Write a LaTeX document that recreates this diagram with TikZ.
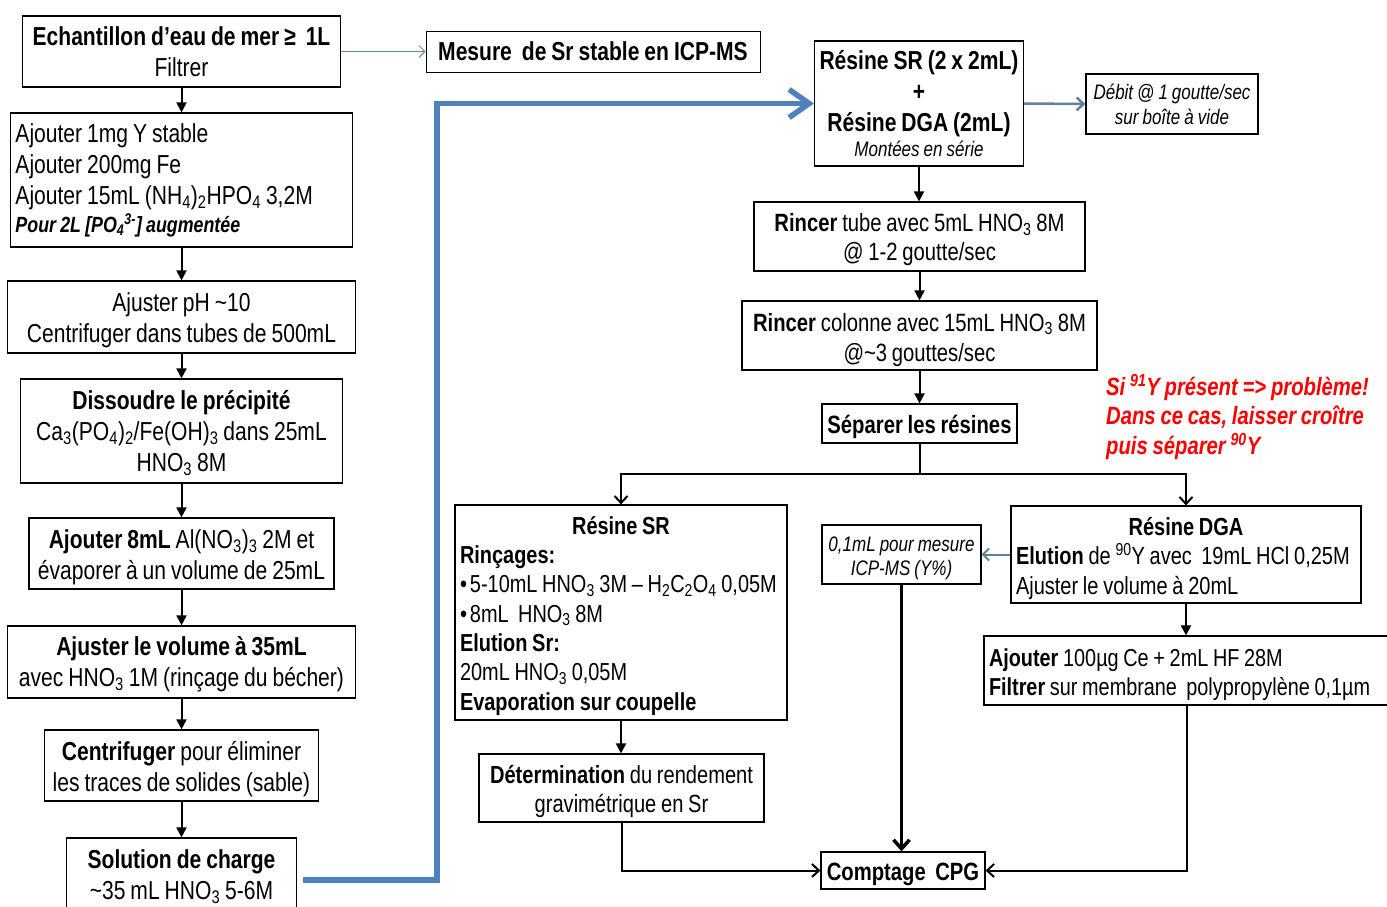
\documentclass[tikz,border=0pt]{standalone}
\usepackage{fontspec}
\setmainfont[FakeStretch=0.81,WordSpace=0.85]{Liberation Sans}
\usetikzlibrary{arrows.meta}
\definecolor{arrblue}{RGB}{79,129,189}
\definecolor{slate}{RGB}{96,132,150}
\definecolor{redtxt}{RGB}{255,0,0}
\newcommand{\fs}[2]{\fontsize{#1}{#2}\selectfont}
\newcommand{\mysub}[1]{\textsubscript{#1}}
\newcommand{\mysup}[1]{\textsuperscript{#1}}
\newcommand{\nsp}{\spaceskip=0pt\xspaceskip=0pt\relax}
\newcommand{\tp}[1]{\rule{0pt}{#1pt}}
\begin{document}
\begin{tikzpicture}[x=1pt,y=-1pt,
  box/.style={draw, line width=1.2pt, inner xsep=5pt, inner ysep=0pt, font=\fs{26}{31}, align=center,
    execute at begin node=\nsp},
  arr/.style={-{Triangle[length=10pt,width=10pt]}, line width=2pt},
  barb/.style={-{Straight Barb[length=7pt,width=13pt]}, line width=2pt},
  slatearr/.style={-{Straight Barb[length=7pt,width=13pt]}, line width=2.5pt, draw=slate},
  bluearr/.style={-{Straight Barb[length=20pt,width=28pt]}, line width=5.5pt, draw=arrblue}
]
\useasboundingbox[fill=white] (0,0) rectangle (1387,906);
\clip (0,0) rectangle (1387,906);

% left column
\node[box, minimum width=318, minimum height=71] (e1) at (181.5,51.5)
  {{\bfseries Echantillon d’eau de mer ≥~~1L}\\Filtrer};
\node[box, minimum width=342, minimum height=134, text width=332, align=left] (e2) at (181.5,180)
  {\mbox{Ajouter 1mg Y stable}\\\mbox{Ajouter 200mg Fe}\\\mbox{Ajouter 15mL (NH\mysub{4})\mysub{2}HPO\mysub{4} 3,2M}\\[-3pt]\mbox{\fs{22}{26}\bfseries\itshape Pour 2L [PO\mysub{4}\mysup{3-}] augmentée}};
\node[box, minimum width=348, minimum height=72] (e3) at (181.5,317)
  {\tp{25}Ajuster pH \textasciitilde10\\Centrifuger dans tubes de 500mL};
\node[box, minimum width=322, minimum height=104] (e4) at (181.5,431)
  {\tp{23.5}{\bfseries Dissoudre le précipité}\\Ca\mysub{3}(PO\mysub{4})\mysub{2}/Fe(OH)\mysub{3} dans 25mL\\HNO\mysub{3} 8M};
\node[box, minimum width=305, minimum height=71] (e5) at (181.5,553.5)
  {\tp{27}{\bfseries Ajouter 8mL} Al(NO\mysub{3})\mysub{3} 2M et\\évaporer à un volume de 25mL};
\node[box, minimum width=348, minimum height=72] (e6) at (181.5,662)
  {\tp{23}{\bfseries Ajuster le volume à 35mL}\\avec HNO\mysub{3} 1M (rinçage du bécher)};
\node[box, minimum width=274, minimum height=71] (e7) at (181.5,765.5)
  {\tp{27}{\bfseries Centrifuger} pour éliminer\\les traces de solides (sable)};
\node[box, minimum width=230, minimum height=74] (e8) at (181.5,875)
  {\tp{23}{\bfseries Solution de charge}\\\textasciitilde35 mL HNO\mysub{3} 5-6M};

\draw[arr] (e1.south) -- (e2.north);
\draw[arr] (e2.south) -- (e3.north);
\draw[arr] (e3.south) -- (e4.north);
\draw[arr] (e4.south) -- (e5.north);
\draw[arr] (e5.south) -- (e6.north);
\draw[arr] (e6.south) -- (e7.north);
\draw[arr] (e7.south) -- (e8.north);

% mesure
\node[box, line width=1pt, minimum width=334, minimum height=41] (mes) at (593,51.5)
  {\bfseries Mesure~~de Sr stable en ICP-MS};
\draw[-{Straight Barb[length=6pt,width=12pt]}, line width=0.8pt, draw=slate] (e1.east) -- (mes.west);

% top right
\node[box, minimum width=204, minimum height=125] (srtop) at (919,103.5)
  {{\bfseries Résine SR (2 x 2mL)}\\{\bfseries +}\\{\bfseries Résine DGA (2mL)}\\[-6pt]{\fs{21}{25}\itshape Montées en série}};
\node[box, minimum width=172, minimum height=60, font=\fs{21}{25}\itshape] (deb) at (1172,104)
  {Débit @ 1 goutte/sec\\sur boîte à vide};
\draw[slatearr] (srtop.east) -- (deb.west);

\coordinate (bend) at (437,880);
\draw[bluearr] ([xshift=6pt,yshift=-5pt]e8.east) -- (bend) |- (srtop.west);

\node[box, minimum width=331, minimum height=69, font=\fs{25}{29}] (r1) at (919.5,236.5)
  {\tp{24.5}{\bfseries Rincer} tube avec 5mL HNO\mysub{3} 8M\\@ 1-2 goutte/sec};
\node[box, minimum width=355, minimum height=69, font=\fs{25}{30}] (r2) at (919.5,335.5)
  {\tp{26.5}{\bfseries Rincer} colonne avec 15mL HNO\mysub{3} 8M\\@\textasciitilde3 gouttes/sec};
\node[box, minimum width=195, minimum height=39, font=\fs{25}{30}] (sep) at (919.5,423.5)
  {\tp{24.5}\bfseries Séparer les résines};
\draw[arr] (srtop.south) -- (srtop.south |- r1.north);
\draw[arr] (r1.south) -- (r2.north);
\draw[arr] (r2.south) -- (sep.north);

\node[anchor=west, align=left, text=redtxt, font=\fs{25}{29.5}\bfseries\itshape, inner sep=0pt] (note) at (1106,416.5)
  {Si \mysup{91}Y présent => problème!\\Dans ce cas, laisser croître\\puis séparer \mysup{90}Y};

% branches
\node[box, minimum width=332, minimum height=215, text width=322, align=left, font=\fs{24.6}{29.3}] (rsr) at (621,612.5)
  {\tp{24.5}\makebox[\linewidth][c]{\bfseries Résine SR}\\\mbox{\bfseries Rinçages:}\\\mbox{•\hspace{3pt}5-10mL HNO\mysub{3} 3M – H\mysub{2}C\mysub{2}O\mysub{4} 0,05M}\\\mbox{•\hspace{3pt}8mL~ HNO\mysub{3} 8M}\\\mbox{\bfseries Elution Sr:}\\\mbox{20mL HNO\mysub{3} 0,05M}\\\mbox{\bfseries Evaporation sur coupelle}};
\node[box, minimum width=350, minimum height=97, text width=340, align=left, font=\fs{24.7}{29.5}] (dga) at (1186,554.5)
  {\tp{25.5}\makebox[\linewidth][c]{\bfseries Résine DGA}\\\mbox{{\bfseries Elution} de \mysup{90}Y avec~~19mL HCl 0,25M}\\\mbox{Ajuster le volume à 20mL}};
\coordinate (jn) at (919.5,474);
\draw[line width=2pt] (sep.south) -- (jn);
\draw[barb] (jn) -| (rsr.north);
\draw[barb] (jn) -| (dga.north);

\node[box, minimum width=285, minimum height=68, font=\fs{24.8}{29}] (det) at (621.5,788)
  {\tp{24.5}{\bfseries Détermination} du rendement\\gravimétrique en Sr};
\draw[arr] (rsr.south) -- (rsr.south |- det.north);

\node[box, minimum width=159, minimum height=59, font=\fs{21}{24}\itshape] (icp) at (901.5,554.5)
  {\tp{21.5}0,1mL pour mesure\\ICP-MS (Y\%)};
\draw[-{Straight Barb[length=6pt,width=12pt]}, line width=2pt, draw=slate] (dga.west) -- (icp.east);

\node[box, minimum width=408, minimum height=69, text width=398, align=left, font=\fs{24.5}{29}] (aj) at (1188,670.5)
  {\tp{26}\mbox{{\bfseries Ajouter} 100µg Ce + 2mL HF 28M}\\\mbox{{\bfseries Filtrer} sur membrane~ polypropylène 0,1µm}};
\draw[arr] (dga.south) -- (dga.south |- aj.north);

\node[box, minimum width=164, minimum height=37, font=\fs{25}{30}] (cpg) at (903,870.5)
  {\tp{24.5}\bfseries Comptage~~CPG};

\draw[barb] (det.south) |- (cpg.west);
\draw[barb] ([xshift=-1pt]aj.south) |- (cpg.east);
\draw[-{Straight Barb[length=9pt,width=16pt]}, line width=3.5pt] (icp.south) -- (icp.south |- cpg.north);
\end{tikzpicture}
\end{document}
